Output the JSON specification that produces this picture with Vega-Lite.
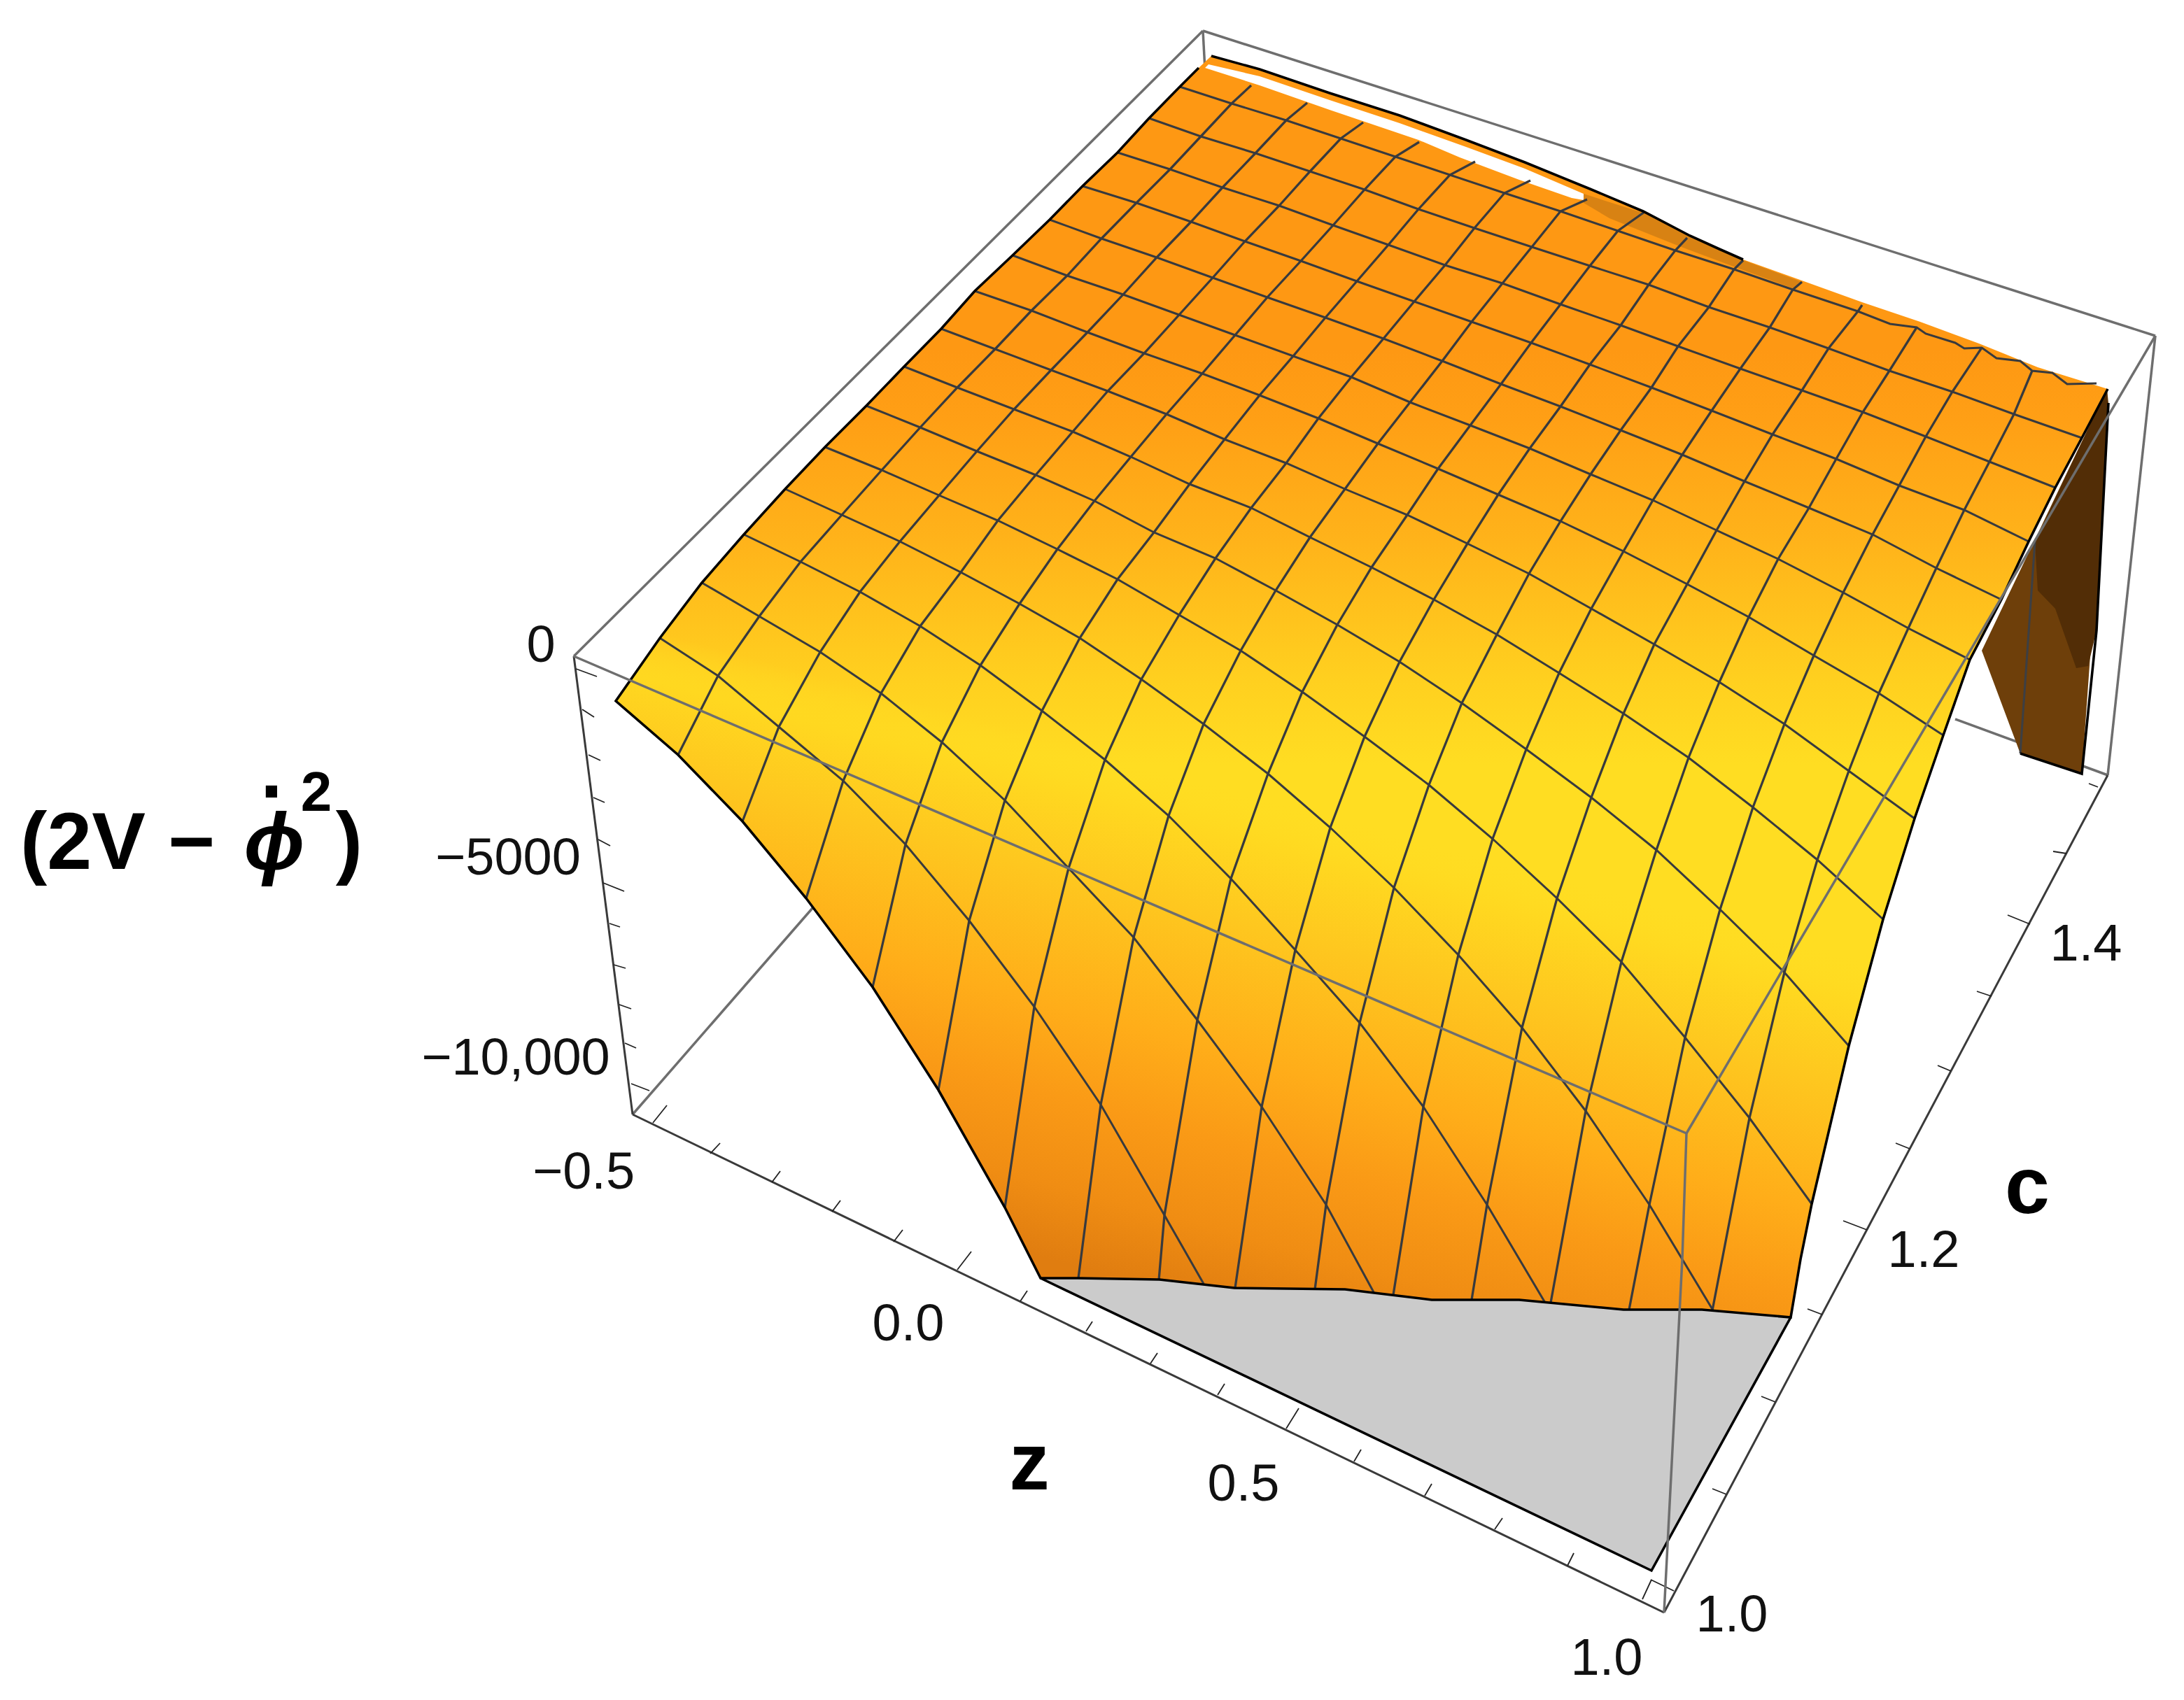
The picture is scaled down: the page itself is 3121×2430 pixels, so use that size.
{"$schema":"https://vega.github.io/schema/vega-lite/v6.json","width":3121,"height":2430,"padding":0,"autosize":{"type":"fit","contains":"padding"},"background":"white","config":{"view":{"stroke":null}},
"datasets":{
"nodes":[
{"a":0,"b":0,"u":1686,"v":124},{"a":1,"b":0,"u":1642,"v":169},{"a":2,"b":0,"u":1597,"v":218},{"a":3,"b":0,"u":1547,"v":266},{"a":4,"b":0,"u":1500,"v":314},{"a":5,"b":0,"u":1447,"v":365},{"a":6,"b":0,"u":1393,"v":416},{"a":7,"b":0,"u":1345,"v":470},{"a":8,"b":0,"u":1292,"v":524},{"a":9,"b":0,"u":1238,"v":580},{"a":10,"b":0,"u":1179,"v":639},{"a":11,"b":0,"u":1122,"v":699},{"a":12,"b":0,"u":1063,"v":764},{"a":13,"b":0,"u":1003,"v":833},{"a":14,"b":0,"u":943,"v":912},
{"a":0,"b":16,"u":2996,"v":548},{"a":1,"b":16,"u":2975,"v":626},{"a":2,"b":16,"u":2937,"v":697},{"a":3,"b":16,"u":2899,"v":774},{"a":4,"b":16,"u":2860,"v":857},{"a":5,"b":16,"u":2815,"v":943},{"a":6,"b":16,"u":2777,"v":1051},{"a":7,"b":16,"u":2736,"v":1170},{"a":8,"b":16,"u":2691,"v":1314},{"a":9,"b":16,"u":2642,"v":1495},{"a":10,"b":16,"u":2589,"v":1721},{"a":11,"b":16,"u":2448,"v":1873},{"a":12,"b":16,"u":2208,"v":1862},{"a":13,"b":16,"u":1963,"v":1847},{"a":14,"b":16,"u":1720,"v":1835},
{"a":0,"b":12.5,"u":2701,"v":463},{"a":0,"b":13.3,"u":2752,"v":477},{"a":0,"b":13.6,"u":2794,"v":490},{"a":0,"b":13.8,"u":2807,"v":498},{"a":0,"b":14.3,"u":2853,"v":512},{"a":0,"b":14.7,"u":2887,"v":516},{"a":0,"b":15.3,"u":2933,"v":533},{"a":0,"b":15.6,"u":2954,"v":549},
{"a":-1,"b":1,"u":1788,"v":122},{"a":0,"b":1,"u":1760,"v":148},{"a":1,"b":1,"u":1716,"v":195},{"a":2,"b":1,"u":1672,"v":242},{"a":3,"b":1,"u":1624,"v":290},{"a":4,"b":1,"u":1574,"v":341},{"a":5,"b":1,"u":1525,"v":394},{"a":6,"b":1,"u":1474,"v":444},{"a":7,"b":1,"u":1422,"v":499},{"a":8,"b":1,"u":1368,"v":554},{"a":9,"b":1,"u":1315,"v":611},{"a":10,"b":1,"u":1260,"v":672},{"a":11,"b":1,"u":1203,"v":736},{"a":12,"b":1,"u":1144,"v":803},{"a":13,"b":1,"u":1085,"v":881},{"a":14,"b":1,"u":1026,"v":966},{"a":15,"b":1,"u":969,"v":1079},
{"a":-1,"b":2,"u":1868,"v":147},{"a":0,"b":2,"u":1838,"v":172},{"a":1,"b":2,"u":1794,"v":219},{"a":2,"b":2,"u":1747,"v":268},{"a":3,"b":2,"u":1702,"v":317},{"a":4,"b":2,"u":1653,"v":368},{"a":5,"b":2,"u":1605,"v":421},{"a":6,"b":2,"u":1554,"v":475},{"a":7,"b":2,"u":1502,"v":529},{"a":8,"b":2,"u":1449,"v":585},{"a":9,"b":2,"u":1396,"v":645},{"a":10,"b":2,"u":1342,"v":708},{"a":11,"b":2,"u":1286,"v":774},{"a":12,"b":2,"u":1229,"v":846},{"a":13,"b":2,"u":1172,"v":932},{"a":14,"b":2,"u":1113,"v":1039},{"a":15,"b":2,"u":1061,"v":1174},
{"a":-1,"b":3,"u":1948,"v":175},{"a":0,"b":3,"u":1916,"v":198},{"a":1,"b":3,"u":1872,"v":245},{"a":2,"b":3,"u":1828,"v":294},{"a":3,"b":3,"u":1779,"v":345},{"a":4,"b":3,"u":1733,"v":397},{"a":5,"b":3,"u":1685,"v":450},{"a":6,"b":3,"u":1635,"v":505},{"a":7,"b":3,"u":1583,"v":559},{"a":8,"b":3,"u":1533,"v":617},{"a":9,"b":3,"u":1480,"v":679},{"a":10,"b":3,"u":1426,"v":744},{"a":11,"b":3,"u":1373,"v":818},{"a":12,"b":3,"u":1315,"v":895},{"a":13,"b":3,"u":1259,"v":991},{"a":14,"b":3,"u":1205,"v":1116},{"a":15,"b":3,"u":1152,"v":1284},
{"a":-1,"b":4,"u":2028,"v":203},{"a":0,"b":4,"u":1994,"v":224},{"a":1,"b":4,"u":1950,"v":271},{"a":2,"b":4,"u":1905,"v":322},{"a":3,"b":4,"u":1859,"v":373},{"a":4,"b":4,"u":1811,"v":425},{"a":5,"b":4,"u":1765,"v":479},{"a":6,"b":4,"u":1718,"v":534},{"a":7,"b":4,"u":1667,"v":592},{"a":8,"b":4,"u":1616,"v":653},{"a":9,"b":4,"u":1564,"v":716},{"a":10,"b":4,"u":1511,"v":785},{"a":11,"b":4,"u":1457,"v":863},{"a":12,"b":4,"u":1401,"v":951},{"a":13,"b":4,"u":1346,"v":1061},{"a":14,"b":4,"u":1294,"v":1207},{"a":15,"b":4,"u":1247,"v":1411},
{"a":-1,"b":5,"u":2108,"v":231},{"a":0,"b":5,"u":2072,"v":250},{"a":1,"b":5,"u":2027,"v":299},{"a":2,"b":5,"u":1984,"v":350},{"a":3,"b":5,"u":1939,"v":402},{"a":4,"b":5,"u":1894,"v":454},{"a":5,"b":5,"u":1848,"v":509},{"a":6,"b":5,"u":1800,"v":565},{"a":7,"b":5,"u":1750,"v":628},{"a":8,"b":5,"u":1700,"v":692},{"a":9,"b":5,"u":1649,"v":761},{"a":10,"b":5,"u":1597,"v":828},{"a":11,"b":5,"u":1543,"v":912},{"a":12,"b":5,"u":1489,"v":1016},{"a":13,"b":5,"u":1436,"v":1144},{"a":14,"b":5,"u":1385,"v":1316},{"a":15,"b":5,"u":1341,"v":1558},
{"a":-1,"b":6,"u":2187,"v":258},{"a":0,"b":6,"u":2150,"v":276},{"a":1,"b":6,"u":2107,"v":326},{"a":2,"b":6,"u":2065,"v":379},{"a":3,"b":6,"u":2021,"v":431},{"a":4,"b":6,"u":1977,"v":484},{"a":5,"b":6,"u":1931,"v":539},{"a":6,"b":6,"u":1884,"v":598},{"a":7,"b":6,"u":1838,"v":662},{"a":8,"b":6,"u":1788,"v":726},{"a":9,"b":6,"u":1737,"v":798},{"a":10,"b":6,"u":1685,"v":879},{"a":11,"b":6,"u":1631,"v":971},{"a":12,"b":6,"u":1579,"v":1086},{"a":13,"b":6,"u":1527,"v":1241},{"a":14,"b":6,"u":1478,"v":1439},{"a":15,"b":6,"u":1436,"v":1726},
{"a":-1,"b":7,"u":2268,"v":285},{"a":0,"b":7,"u":2230,"v":302},{"a":1,"b":7,"u":2189,"v":353},{"a":2,"b":7,"u":2147,"v":405},{"a":3,"b":7,"u":2103,"v":460},{"a":4,"b":7,"u":2061,"v":516},{"a":5,"b":7,"u":2015,"v":575},{"a":6,"b":7,"u":1969,"v":634},{"a":7,"b":7,"u":1922,"v":699},{"a":8,"b":7,"u":1872,"v":768},{"a":9,"b":7,"u":1823,"v":844},{"a":10,"b":7,"u":1773,"v":930},{"a":11,"b":7,"u":1720,"v":1035},{"a":12,"b":7,"u":1670,"v":1166},{"a":13,"b":7,"u":1620,"v":1340},{"a":14,"b":7,"u":1573,"v":1579},{"a":15,"b":7,"u":1541,"v":1827},
{"a":-1,"b":8,"u":2350,"v":303},{"a":0,"b":8,"u":2312,"v":330},{"a":1,"b":8,"u":2272,"v":380},{"a":2,"b":8,"u":2230,"v":435},{"a":3,"b":8,"u":2188,"v":490},{"a":4,"b":8,"u":2145,"v":549},{"a":5,"b":8,"u":2101,"v":608},{"a":6,"b":8,"u":2055,"v":670},{"a":7,"b":8,"u":2011,"v":736},{"a":8,"b":8,"u":1960,"v":811},{"a":9,"b":8,"u":1911,"v":893},{"a":10,"b":8,"u":1861,"v":989},{"a":11,"b":8,"u":1812,"v":1106},{"a":12,"b":8,"u":1759,"v":1256},{"a":13,"b":8,"u":1711,"v":1458},{"a":14,"b":8,"u":1664,"v":1737},{"a":15,"b":8,"u":1656,"v":1830},
{"a":-1,"b":9,"u":2411,"v":340},{"a":0,"b":9,"u":2394,"v":358},{"a":1,"b":9,"u":2356,"v":407},{"a":2,"b":9,"u":2316,"v":465},{"a":3,"b":9,"u":2272,"v":521},{"a":4,"b":9,"u":2230,"v":581},{"a":5,"b":9,"u":2186,"v":641},{"a":6,"b":9,"u":2141,"v":707},{"a":7,"b":9,"u":2097,"v":777},{"a":8,"b":9,"u":2049,"v":857},{"a":9,"b":9,"u":2000,"v":946},{"a":10,"b":9,"u":1950,"v":1053},{"a":11,"b":9,"u":1901,"v":1183},{"a":12,"b":9,"u":1851,"v":1358},{"a":13,"b":9,"u":1803,"v":1582},{"a":15,"b":9,"u":1765,"v":1841},
{"a":-1,"b":10,"u":2491,"v":372},{"a":0,"b":10,"u":2478,"v":385},{"a":1,"b":10,"u":2442,"v":439},{"a":2,"b":10,"u":2398,"v":495},{"a":3,"b":10,"u":2360,"v":554},{"a":4,"b":10,"u":2316,"v":615},{"a":5,"b":10,"u":2273,"v":678},{"a":6,"b":10,"u":2230,"v":745},{"a":7,"b":10,"u":2185,"v":820},{"a":8,"b":10,"u":2139,"v":907},{"a":9,"b":10,"u":2089,"v":1005},{"a":10,"b":10,"u":2042,"v":1122},{"a":11,"b":10,"u":1992,"v":1269},{"a":12,"b":10,"u":1943,"v":1462},{"a":13,"b":10,"u":1895,"v":1722},{"a":15,"b":10,"u":1879,"v":1843},
{"a":-1,"b":11,"u":2575,"v":403},{"a":0,"b":11,"u":2562,"v":414},{"a":1,"b":11,"u":2529,"v":468},{"a":2,"b":11,"u":2487,"v":527},{"a":3,"b":11,"u":2446,"v":587},{"a":4,"b":11,"u":2404,"v":650},{"a":5,"b":11,"u":2362,"v":715},{"a":6,"b":11,"u":2320,"v":788},{"a":7,"b":11,"u":2274,"v":870},{"a":8,"b":11,"u":2228,"v":962},{"a":9,"b":11,"u":2181,"v":1071},{"a":10,"b":11,"u":2133,"v":1199},{"a":11,"b":11,"u":2084,"v":1365},{"a":12,"b":11,"u":2034,"v":1582},{"a":15,"b":11,"u":1991,"v":1851},
{"a":-1,"b":12,"u":2661,"v":436},{"a":0,"b":12,"u":2655,"v":445},{"a":1,"b":12,"u":2613,"v":498},{"a":2,"b":12,"u":2575,"v":558},{"a":3,"b":12,"u":2533,"v":621},{"a":4,"b":12,"u":2493,"v":688},{"a":5,"b":12,"u":2453,"v":758},{"a":6,"b":12,"u":2411,"v":835},{"a":7,"b":12,"u":2364,"v":921},{"a":8,"b":12,"u":2320,"v":1020},{"a":9,"b":12,"u":2274,"v":1140},{"a":10,"b":12,"u":2225,"v":1284},{"a":11,"b":12,"u":2175,"v":1469},{"a":12,"b":12,"u":2125,"v":1722},{"a":15,"b":12,"u":2103,"v":1858},
{"a":0,"b":13,"u":2739,"v":468},{"a":1,"b":13,"u":2700,"v":530},{"a":2,"b":13,"u":2662,"v":589},{"a":3,"b":13,"u":2624,"v":656},{"a":4,"b":13,"u":2585,"v":726},{"a":5,"b":13,"u":2541,"v":799},{"a":6,"b":13,"u":2499,"v":882},{"a":7,"b":13,"u":2457,"v":975},{"a":8,"b":13,"u":2413,"v":1083},{"a":9,"b":13,"u":2367,"v":1215},{"a":10,"b":13,"u":2317,"v":1375},{"a":11,"b":13,"u":2266,"v":1588},{"a":15,"b":13,"u":2216,"v":1862},
{"a":0,"b":14,"u":2832,"v":497},{"a":1,"b":14,"u":2790,"v":560},{"a":2,"b":14,"u":2752,"v":624},{"a":3,"b":14,"u":2714,"v":694},{"a":4,"b":14,"u":2676,"v":764},{"a":5,"b":14,"u":2634,"v":847},{"a":6,"b":14,"u":2592,"v":937},{"a":7,"b":14,"u":2550,"v":1035},{"a":8,"b":14,"u":2505,"v":1154},{"a":9,"b":14,"u":2458,"v":1300},{"a":10,"b":14,"u":2408,"v":1483},{"a":11,"b":14,"u":2357,"v":1722},{"a":15,"b":14,"u":2328,"v":1872},
{"a":0,"b":15,"u":2904,"v":530},{"a":1,"b":15,"u":2878,"v":592},{"a":2,"b":15,"u":2843,"v":660},{"a":3,"b":15,"u":2807,"v":729},{"a":4,"b":15,"u":2767,"v":812},{"a":5,"b":15,"u":2727,"v":898},{"a":6,"b":15,"u":2685,"v":991},{"a":7,"b":15,"u":2642,"v":1102},{"a":8,"b":15,"u":2597,"v":1229},{"a":9,"b":15,"u":2550,"v":1390},{"a":10,"b":15,"u":2500,"v":1598},{"a":15,"b":15,"u":2447,"v":1873}
],
"outline":[
{"o":1,"u":1713,"v":97},{"o":2,"u":1686,"v":124},{"o":3,"u":1642,"v":169},{"o":4,"u":1597,"v":218},{"o":5,"u":1547,"v":266},{"o":6,"u":1500,"v":314},{"o":7,"u":1447,"v":365},{"o":8,"u":1393,"v":416},{"o":9,"u":1345,"v":470},{"o":10,"u":1292,"v":524},{"o":11,"u":1238,"v":580},{"o":12,"u":1179,"v":639},{"o":13,"u":1122,"v":699},{"o":14,"u":1063,"v":764},{"o":15,"u":1003,"v":833},{"o":16,"u":943,"v":912},{"o":17,"u":880,"v":1002},
{"o":18,"u":969,"v":1079},{"o":19,"u":1061,"v":1174},{"o":20,"u":1152,"v":1284},{"o":21,"u":1247,"v":1411},{"o":22,"u":1341,"v":1558},{"o":23,"u":1436,"v":1726},{"o":24,"u":1487,"v":1827},
{"o":25,"u":1540,"v":1827},{"o":26,"u":1657,"v":1829},{"o":27,"u":1764,"v":1841},{"o":28,"u":1922,"v":1843},{"o":29,"u":2046,"v":1858},{"o":30,"u":2171,"v":1858},{"o":31,"u":2320,"v":1872},{"o":32,"u":2432,"v":1872},{"o":33,"u":2559,"v":1883},
{"o":34,"u":2573,"v":1800},{"o":35,"u":2589,"v":1721},{"o":36,"u":2642,"v":1495},{"o":37,"u":2691,"v":1314},{"o":38,"u":2736,"v":1170},{"o":39,"u":2777,"v":1051},{"o":40,"u":2815,"v":943},{"o":41,"u":2860,"v":857},{"o":42,"u":2899,"v":774},{"o":43,"u":2937,"v":697},{"o":44,"u":2975,"v":626},{"o":45,"u":3012,"v":556},
{"o":46,"u":2912,"v":525},{"o":47,"u":2828,"v":491},{"o":48,"u":2744,"v":460},{"o":49,"u":2661,"v":432},{"o":50,"u":2575,"v":401},{"o":51,"u":2491,"v":371},{"o":52,"u":2457,"v":356},{"o":53,"u":2415,"v":337},{"o":54,"u":2348,"v":302},{"o":55,"u":2272,"v":270},{"o":56,"u":2179,"v":232},{"o":57,"u":2095,"v":200},{"o":58,"u":2000,"v":165},{"o":59,"u":1900,"v":133},{"o":60,"u":1800,"v":99},{"o":61,"u":1731,"v":80}
],
"polys":[
{"g":"wall","o":1,"u":3011,"v":556},{"g":"wall","o":2,"u":2832,"v":930},{"g":"wall","o":3,"u":2887,"v":1077},{"g":"wall","o":4,"u":2975,"v":1106},{"g":"wall","o":5,"u":2990,"v":895},{"g":"wall","o":6,"u":2996,"v":901},{"g":"wall","o":7,"u":3013,"v":576},
{"g":"walldark","o":1,"u":3011,"v":556},{"g":"walldark","o":2,"u":3013,"v":600},{"g":"walldark","o":3,"u":2996,"v":901},{"g":"walldark","o":4,"u":2984,"v":952},{"g":"walldark","o":5,"u":2967,"v":955},{"g":"walldark","o":6,"u":2937,"v":870},{"g":"walldark","o":7,"u":2912,"v":844},{"g":"walldark","o":8,"u":2908,"v":774},
{"g":"base","o":1,"u":1487,"v":1827},{"g":"base","o":2,"u":2000,"v":1700},{"g":"base","o":3,"u":2559,"v":1883},{"g":"base","o":4,"u":2360,"v":2245},
{"g":"gap","o":1,"u":1727,"v":92},{"g":"gap","o":2,"u":1800,"v":109},{"g":"gap","o":3,"u":1900,"v":143},{"g":"gap","o":4,"u":2000,"v":176},{"g":"gap","o":5,"u":2095,"v":210},{"g":"gap","o":6,"u":2179,"v":241},{"g":"gap","o":7,"u":2263,"v":277},{"g":"gap","o":8,"u":2263,"v":286},{"g":"gap","o":9,"u":2246,"v":283},{"g":"gap","o":10,"u":2171,"v":257},{"g":"gap","o":11,"u":2086,"v":225},{"g":"gap","o":12,"u":2027,"v":200},{"g":"gap","o":13,"u":1900,"v":157},{"g":"gap","o":14,"u":1800,"v":122},{"g":"gap","o":15,"u":1722,"v":97},
{"g":"streak","o":1,"u":2263,"v":277},{"g":"streak","o":2,"u":2350,"v":305},{"g":"streak","o":3,"u":2420,"v":340},{"g":"streak","o":4,"u":2491,"v":372},{"g":"streak","o":5,"u":2575,"v":403},{"g":"streak","o":6,"u":2562,"v":412},{"g":"streak","o":7,"u":2480,"v":382},{"g":"streak","o":8,"u":2400,"v":352},{"g":"streak","o":9,"u":2300,"v":312},{"g":"streak","o":10,"u":2263,"v":290}
],
"segs":[
{"k":"back","g":"AB","o":1,"u":1719,"v":44},{"k":"back","g":"AB","o":2,"u":820,"v":938},
{"k":"back","g":"AE","o":1,"u":1719,"v":44},{"k":"back","g":"AE","o":2,"u":3080,"v":480},
{"k":"back","g":"EF","o":1,"u":3080,"v":480},{"k":"back","g":"EF","o":2,"u":3012,"v":1108},
{"k":"back","g":"AH","o":1,"u":1719,"v":44},{"k":"back","g":"AH","o":2,"u":1722,"v":100},
{"k":"back","g":"CH","o":1,"u":904,"v":1593},{"k":"back","g":"CH","o":2,"u":1162,"v":1297},
{"k":"back","g":"FH","o":1,"u":3012,"v":1108},{"k":"back","g":"FH","o":2,"u":2794,"v":1028},
{"k":"axis","g":"BC","o":1,"u":820,"v":938},{"k":"axis","g":"BC","o":2,"u":904,"v":1593},
{"k":"axis","g":"CD","o":1,"u":904,"v":1593},{"k":"axis","g":"CD","o":2,"u":2378,"v":2305},
{"k":"axis","g":"DF","o":1,"u":2378,"v":2305},{"k":"axis","g":"DF","o":2,"u":3012,"v":1108},
{"k":"front","g":"BG","o":1,"u":820,"v":938},{"k":"front","g":"BG","o":2,"u":2410,"v":1620},
{"k":"front","g":"GE","o":1,"u":2410,"v":1620},{"k":"front","g":"GE","o":2,"u":3080,"v":480},
{"k":"front","g":"GD","o":1,"u":2410,"v":1620},{"k":"front","g":"GD","o":2,"u":2404,"v":1800},{"k":"front","g":"GD","o":3,"u":2378,"v":2305},
{"k":"edge","g":"top","o":1,"u":1731,"v":80},{"k":"edge","g":"top","o":2,"u":1800,"v":99},{"k":"edge","g":"top","o":3,"u":1900,"v":133},{"k":"edge","g":"top","o":4,"u":2000,"v":165},{"k":"edge","g":"top","o":5,"u":2095,"v":200},{"k":"edge","g":"top","o":6,"u":2179,"v":232},{"k":"edge","g":"top","o":7,"u":2272,"v":270},{"k":"edge","g":"top","o":8,"u":2348,"v":302},{"k":"edge","g":"top","o":9,"u":2415,"v":337},{"k":"edge","g":"top","o":10,"u":2457,"v":356},{"k":"edge","g":"top","o":11,"u":2491,"v":371},
{"k":"edge","g":"wb","o":1,"u":2887,"v":1077},{"k":"edge","g":"wb","o":2,"u":2975,"v":1106},{"k":"edge","g":"wb","o":3,"u":2996,"v":901},{"k":"edge","g":"wb","o":4,"u":3013,"v":576},
{"k":"edge","g":"base","o":1,"u":1487,"v":1827},{"k":"edge","g":"base","o":2,"u":2360,"v":2245},{"k":"edge","g":"base","o":3,"u":2559,"v":1883},
{"k":"wl","g":"w1","o":1,"u":2908,"v":774},{"k":"wl","g":"w1","o":2,"u":2887,"v":1077}
],
"ticks":[
{"g":"y0","o":1,"u":823,"v":956},{"g":"y0","o":2,"u":853,"v":967},{"g":"y1","o":1,"u":832,"v":1014},{"g":"y1","o":2,"u":849,"v":1025},{"g":"y2","o":1,"u":841,"v":1079},{"g":"y2","o":2,"u":858,"v":1087},{"g":"y3","o":1,"u":848,"v":1140},{"g":"y3","o":2,"u":864,"v":1147},{"g":"y4","o":1,"u":855,"v":1200},{"g":"y4","o":2,"u":872,"v":1209},{"g":"y5","o":1,"u":862,"v":1262},{"g":"y5","o":2,"u":892,"v":1274},{"g":"y6","o":1,"u":871,"v":1320},{"g":"y6","o":2,"u":886,"v":1325},{"g":"y7","o":1,"u":877,"v":1379},{"g":"y7","o":2,"u":894,"v":1384},{"g":"y8","o":1,"u":885,"v":1436},{"g":"y8","o":2,"u":902,"v":1442},{"g":"y9","o":1,"u":893,"v":1491},{"g":"y9","o":2,"u":909,"v":1498},{"g":"y10","o":1,"u":902,"v":1549},{"g":"y10","o":2,"u":928,"v":1559},
{"g":"z0","o":1,"u":933,"v":1605},{"g":"z0","o":2,"u":953,"v":1580},{"g":"z1","o":1,"u":1015,"v":1649},{"g":"z1","o":2,"u":1029,"v":1634},{"g":"z2","o":1,"u":1103,"v":1690},{"g":"z2","o":2,"u":1115,"v":1674},{"g":"z3","o":1,"u":1189,"v":1732},{"g":"z3","o":2,"u":1201,"v":1716},{"g":"z4","o":1,"u":1277,"v":1775},{"g":"z4","o":2,"u":1290,"v":1758},{"g":"z5","o":1,"u":1368,"v":1815},{"g":"z5","o":2,"u":1388,"v":1789},{"g":"z6","o":1,"u":1458,"v":1860},{"g":"z6","o":2,"u":1468,"v":1845},{"g":"z7","o":1,"u":1552,"v":1903},{"g":"z7","o":2,"u":1561,"v":1889},{"g":"z8","o":1,"u":1644,"v":1949},{"g":"z8","o":2,"u":1654,"v":1934},{"g":"z9","o":1,"u":1740,"v":1994},{"g":"z9","o":2,"u":1750,"v":1978},{"g":"z10","o":1,"u":1838,"v":2042},{"g":"z10","o":2,"u":1856,"v":2013},{"g":"z11","o":1,"u":1935,"v":2089},{"g":"z11","o":2,"u":1945,"v":2072},{"g":"z12","o":1,"u":2036,"v":2138},{"g":"z12","o":2,"u":2046,"v":2121},{"g":"z13","o":1,"u":2136,"v":2186},{"g":"z13","o":2,"u":2147,"v":2170},{"g":"z14","o":1,"u":2240,"v":2238},{"g":"z14","o":2,"u":2249,"v":2220},{"g":"z15","o":1,"u":2347,"v":2286},{"g":"z15","o":2,"u":2360,"v":2258},
{"g":"c0","o":1,"u":2392,"v":2274},{"g":"c0","o":2,"u":2359,"v":2258},{"g":"c1","o":1,"u":2467,"v":2136},{"g":"c1","o":2,"u":2447,"v":2128},{"g":"c2","o":1,"u":2537,"v":2004},{"g":"c2","o":2,"u":2517,"v":1996},{"g":"c3","o":1,"u":2604,"v":1879},{"g":"c3","o":2,"u":2583,"v":1871},{"g":"c4","o":1,"u":2668,"v":1758},{"g":"c4","o":2,"u":2634,"v":1745},{"g":"c5","o":1,"u":2729,"v":1642},{"g":"c5","o":2,"u":2709,"v":1634},{"g":"c6","o":1,"u":2788,"v":1531},{"g":"c6","o":2,"u":2769,"v":1523},{"g":"c7","o":1,"u":2846,"v":1424},{"g":"c7","o":2,"u":2825,"v":1417},{"g":"c8","o":1,"u":2901,"v":1321},{"g":"c8","o":2,"u":2869,"v":1308},{"g":"c9","o":1,"u":2953,"v":1220},{"g":"c9","o":2,"u":2934,"v":1217},{"g":"c10","o":1,"u":2998,"v":1125},{"g":"c10","o":2,"u":2985,"v":1120}
],
"labels":[
{"k":"tick","t":"0","u":773,"v":946},{"k":"tick","t":"−5000","u":726,"v":1250},{"k":"tick","t":"−10,000","u":737,"v":1536},{"k":"tick","t":"−0.5","u":834,"v":1699},{"k":"tick","t":"0.0","u":1298,"v":1916},{"k":"tick","t":"0.5","u":1777,"v":2145},{"k":"tick","t":"1.0","u":2296,"v":2394},{"k":"tick","t":"1.0","u":2475,"v":2332},{"k":"tick","t":"1.2","u":2749,"v":1811},{"k":"tick","t":"1.4","u":2981,"v":1373},
{"k":"bold","t":"z","u":1471,"v":2129},{"k":"bold","t":"c","u":2897,"v":1734},{"k":"bold","t":")","u":499,"v":1242},{"k":"lead","t":"(2V −","u":29,"v":1242},
{"k":"phi","t":"ϕ","u":392,"v":1243},{"k":"dot","t":".","u":388,"v":1140},{"k":"sup","t":"2","u":452,"v":1159}
]
},
"encoding":{
"x":{"field":"u","type":"quantitative","scale":{"domain":[0,3121],"nice":false,"zero":false},"axis":null},
"y":{"field":"v","type":"quantitative","scale":{"domain":[2430,0],"nice":false,"zero":false},"axis":null}
},
"layer":[
{"data":{"name":"segs"},"transform":[{"filter":"datum.k=='back'"}],"mark":{"type":"line","stroke":"#6e6e6e","strokeWidth":3.5},"encoding":{"detail":{"field":"g"},"order":{"field":"o"}}},
{"data":{"name":"segs"},"transform":[{"filter":"datum.k=='axis'"}],"mark":{"type":"line","stroke":"#3a3a3a","strokeWidth":3},"encoding":{"detail":{"field":"g"},"order":{"field":"o"}}},
{"data":{"name":"ticks"},"mark":{"type":"line","stroke":"#222222","strokeWidth":1.8},"encoding":{"detail":{"field":"g"},"order":{"field":"o"}}},
{"data":{"name":"polys"},"transform":[{"filter":"datum.g=='wall'"}],"mark":{"type":"line","fill":"#6e3f0a","stroke":"transparent"},"encoding":{"order":{"field":"o"}}},
{"data":{"name":"polys"},"transform":[{"filter":"datum.g=='walldark'"}],"mark":{"type":"line","fill":"#522d06","stroke":"transparent"},"encoding":{"order":{"field":"o"}}},
{"data":{"name":"segs"},"transform":[{"filter":"datum.k=='wl'"}],"mark":{"type":"line","stroke":"#3c3f44","strokeWidth":3},"encoding":{"detail":{"field":"g"},"order":{"field":"o"}}},
{"data":{"name":"polys"},"transform":[{"filter":"datum.g=='base'"}],"mark":{"type":"line","fill":"#cbcbcb","stroke":"transparent"},"encoding":{"order":{"field":"o"}}},
{"data":{"name":"outline"},"mark":{"type":"line","stroke":"transparent","fill":{"gradient":"linear","x1":0,"y1":0,"x2":0,"y2":1,"stops":[{"offset":0,"color":"#fe9813"},{"offset":0.233,"color":"#fe9813"},{"offset":0.288,"color":"#ff9f15"},{"offset":0.385,"color":"#ffb31a"},{"offset":0.491,"color":"#ffcf1f"},{"offset":0.562,"color":"#ffdd22"},{"offset":1,"color":"#ffdd22"}]}},"encoding":{"order":{"field":"o"}}},
{"data":{"name":"outline"},"mark":{"type":"line","stroke":"transparent","fill":{"gradient":"linear","x1":0.5,"y1":0.5798,"x2":0.3715,"y2":0.9825,"stops":[{"offset":0,"color":"rgba(255,221,34,0)"},{"offset":0.0625,"color":"rgba(255,221,34,0)"},{"offset":0.15,"color":"#ffd820"},{"offset":0.3025,"color":"#fec71f"},{"offset":0.541,"color":"#ffad19"},{"offset":0.7,"color":"#fa9a16"},{"offset":0.859,"color":"#f08d13"},{"offset":0.994,"color":"#e07d10"},{"offset":1,"color":"#e07d10"}]}},"encoding":{"order":{"field":"o"}}},
{"data":{"name":"polys"},"transform":[{"filter":"datum.g=='gap'"}],"mark":{"type":"line","fill":"#ffffff","stroke":"transparent"},"encoding":{"order":{"field":"o"}}},
{"data":{"name":"polys"},"transform":[{"filter":"datum.g=='streak'"}],"mark":{"type":"line","fill":"#c87914","stroke":"transparent","fillOpacity":0.7},"encoding":{"order":{"field":"o"}}},
{"data":{"name":"nodes"},"transform":[{"filter":"datum.a>=0 && datum.a<=14"}],"mark":{"type":"line","stroke":"#383a3e","strokeWidth":3},"encoding":{"detail":{"field":"a"},"order":{"field":"b"}}},
{"data":{"name":"nodes"},"transform":[{"filter":"datum.b>=1 && datum.b<=15 && datum.b==floor(datum.b)"}],"mark":{"type":"line","stroke":"#383a3e","strokeWidth":3.3},"encoding":{"detail":{"field":"b"},"order":{"field":"a"}}},
{"data":{"name":"outline"},"transform":[{"filter":"datum.o<=45"}],"mark":{"type":"line","stroke":"#000000","strokeWidth":3.6},"encoding":{"order":{"field":"o"}}},
{"data":{"name":"segs"},"transform":[{"filter":"datum.k=='edge'"}],"mark":{"type":"line","stroke":"#000000","strokeWidth":3.6},"encoding":{"detail":{"field":"g"},"order":{"field":"o"}}},
{"data":{"name":"segs"},"transform":[{"filter":"datum.k=='front'"}],"mark":{"type":"line","stroke":"#6e6e6e","strokeWidth":3.5},"encoding":{"detail":{"field":"g"},"order":{"field":"o"}}},
{"data":{"name":"labels"},"transform":[{"filter":"datum.k=='tick'"}],"mark":{"type":"text","font":"Liberation Sans","fontSize":74,"align":"center","baseline":"alphabetic","color":"#111111"},"encoding":{"text":{"field":"t"}}},
{"data":{"name":"labels"},"transform":[{"filter":"datum.k=='bold'"}],"mark":{"type":"text","font":"Liberation Sans","fontWeight":"bold","fontSize":115,"align":"center","baseline":"alphabetic","color":"#000000"},"encoding":{"text":{"field":"t"}}},
{"data":{"name":"labels"},"transform":[{"filter":"datum.k=='lead'"}],"mark":{"type":"text","font":"Liberation Sans","fontWeight":"bold","fontSize":115,"align":"left","baseline":"alphabetic","color":"#000000"},"encoding":{"text":{"field":"t"}}},
{"data":{"name":"labels"},"transform":[{"filter":"datum.k=='phi'"}],"mark":{"type":"text","font":"Liberation Sans","fontWeight":"bold","fontStyle":"italic","fontSize":115,"align":"center","baseline":"alphabetic","color":"#000000"},"encoding":{"text":{"field":"t"}}},
{"data":{"name":"labels"},"transform":[{"filter":"datum.k=='dot'"}],"mark":{"type":"text","font":"Liberation Sans","fontWeight":"bold","fontSize":115,"align":"center","baseline":"alphabetic","color":"#000000"},"encoding":{"text":{"field":"t"}}},
{"data":{"name":"labels"},"transform":[{"filter":"datum.k=='sup'"}],"mark":{"type":"text","font":"Liberation Sans","fontWeight":"bold","fontSize":80,"align":"center","baseline":"alphabetic","color":"#000000"},"encoding":{"text":{"field":"t"}}}
]
}
